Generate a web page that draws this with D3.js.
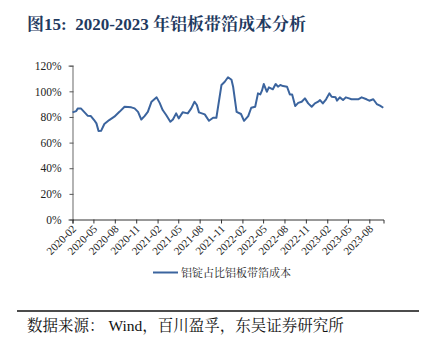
<!DOCTYPE html>
<html><head><meta charset="utf-8">
<script src="https://cdn.jsdelivr.net/npm/d3@7"></script>
<style>
html,body{margin:0;padding:0;background:#fff;}
svg{display:block;}
</style></head>
<body>
<svg id="c" width="428" height="348"></svg>
<script>
const title = "图15:  2020-2023 年铝板带箔成本分析";
const source = "数据来源： Wind，百川盈孚，东吴证券研究所";
const seriesName = "铝锭占比铝板带箔成本";
const dates = ["2020-02-01","2020-02-17","2020-02-24","2020-03-08","2020-03-22","2020-04-06","2020-04-20","2020-05-04","2020-05-14","2020-05-23","2020-06-03","2020-06-17","2020-07-08","2020-07-30","2020-08-21","2020-09-12","2020-10-11","2020-10-25","2020-11-09","2020-11-23","2020-12-07","2020-12-21","2021-01-06","2021-01-28","2021-02-10","2021-02-23","2021-03-10","2021-03-28","2021-04-08","2021-04-22","2021-05-03","2021-05-20","2021-06-11","2021-06-26","2021-07-10","2021-07-20","2021-07-29","2021-08-23","2021-09-10","2021-09-28","2021-10-12","2021-11-03","2021-11-17","2021-12-01","2021-12-16","2021-12-23","2022-01-07","2022-01-26","2022-02-08","2022-02-26","2022-03-11","2022-03-28","2022-04-09","2022-04-19","2022-04-26","2022-05-04","2022-05-17","2022-05-26","2022-06-12","2022-06-24","2022-07-04","2022-07-14","2022-07-26","2022-08-12","2022-08-24","2022-09-03","2022-09-16","2022-09-29","2022-10-14","2022-10-28","2022-11-11","2022-11-26","2022-12-10","2022-12-24","2023-01-01","2023-01-13","2023-01-27","2023-02-10","2023-02-20","2023-03-09","2023-03-15","2023-03-27","2023-04-10","2023-04-22","2023-05-06","2023-05-16","2023-06-14","2023-06-29","2023-07-20","2023-08-01","2023-08-18","2023-09-02","2023-09-16","2023-09-30"];
const values = [83.6,84.6,86.7,86.7,84,81,80.7,77.6,75,69,69.2,74.5,77.6,80.2,84,88,87.5,86.7,84,78,80.7,84,91.9,95.3,91,85.4,81.5,76.3,78,82.8,78.9,83.6,82.8,86.7,91.9,89.3,83.6,82,77,79.4,79.4,105,107.5,111,109,103.6,84,82.3,77,80.7,87.2,88,98.4,97.6,100.5,105.7,99.7,103.1,101.6,105.7,103.6,104.9,104.1,103.6,97.6,97.6,88.5,91,91.9,94.5,90.6,88,90.6,91.9,93.2,90.6,93.8,98.4,95.8,95.3,92.7,95.3,93.2,95.3,94.5,93.8,93.8,95.3,93.8,92.7,93.8,90.1,88.8,87.2];
const yTicks = [0,20,40,60,80,100,120];
const xTickLabels = ["2020-02","2020-05","2020-08","2020-11","2021-02","2021-05","2021-08","2021-11","2022-02","2022-05","2022-08","2022-11","2023-02","2023-05","2023-08"];

const parse = d3.timeParse("%Y-%m-%d");
const parseM = d3.timeParse("%Y-%m");
const data = dates.map((d,i)=>({date:parse(d), v:values[i]}));

const svg = d3.select("#c");
const serif = "'Liberation Serif','Times New Roman','Noto Serif CJK SC','Noto Sans CJK SC',serif";

// title
svg.append("text").attr("x",27).attr("y",30).style("white-space","pre")
  .attr("font-family",serif).attr("font-weight","bold").attr("font-size",17)
  .attr("fill","#1f3a60").text(title);

const x = d3.scaleTime().domain([parseM("2020-02"), parseM("2023-10")]).range([72.5, 383.5]);
const y = d3.scaleLinear().domain([0,120]).range([219.5, 65.7]);

// y axis
const yAxis = svg.append("g").attr("transform","translate(72.5,0)")
  .call(d3.axisLeft(y).tickValues(yTicks).tickFormat(d=>d+"%").tickSize(4).tickPadding(7));
yAxis.select(".domain").attr("stroke","#8c8c8c").attr("stroke-width",1.3);
yAxis.selectAll(".tick line").attr("stroke","#555").attr("x2",-3).attr("x1",1);
yAxis.selectAll("text").attr("font-family",serif).attr("font-size",11.5).attr("fill","#222");

// x axis
const xAxis = svg.append("g").attr("transform","translate(0,219.5)")
  .call(d3.axisBottom(x).tickValues(xTickLabels.map(parseM)).tickFormat(d3.timeFormat("%Y-%m")).tickSizeOuter(0).tickSize(4));
xAxis.select(".domain").attr("stroke","#333").attr("stroke-width",1);
xAxis.selectAll(".tick line").attr("stroke","#333");
xAxis.selectAll("text")
  .attr("font-family",serif).attr("font-size",11).attr("fill","#222")
  .attr("text-anchor","end").attr("dy",null).attr("y",0)
  .attr("transform","translate(4,10) rotate(-45)");

// line
svg.append("path").datum(data)
  .attr("fill","none").attr("stroke","#3b649e").attr("stroke-width",2).attr("stroke-linejoin","round")
  .attr("d", d3.line().x(d=>x(d.date)).y(d=>y(d.v)));

// legend
svg.append("line").attr("x1",153).attr("x2",178).attr("y1",272.5).attr("y2",272.5)
  .attr("stroke","#3b649e").attr("stroke-width",2);
svg.append("text").attr("x",181).attr("y",276.5)
  .attr("font-family",serif).attr("font-size",11).attr("fill","#222").text(seriesName);

// footer
svg.append("line").attr("x1",17).attr("x2",419).attr("y1",311).attr("y2",311)
  .attr("stroke","#111").attr("stroke-width",1.5);
svg.append("text").attr("x",27).attr("y",331).style("white-space","pre")
  .attr("font-family",serif).attr("font-size",15.5).attr("fill","#111").text(source);
</script>
</body></html>
